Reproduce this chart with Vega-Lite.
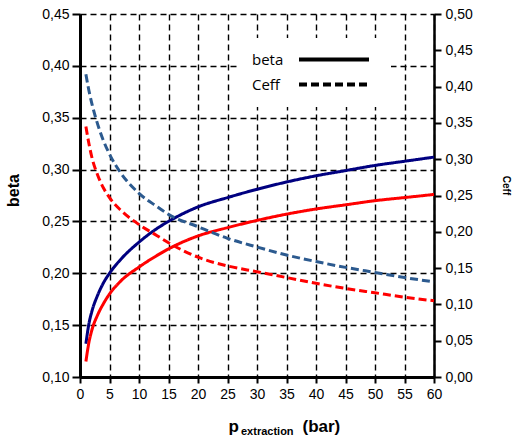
{
  "$schema": "https://vega.github.io/schema/vega-lite/v6.json",
  "width": 354,
  "height": 363,
  "autosize": {"type": "none"},
  "padding": {"left": 80, "top": 14, "right": 79, "bottom": 63},
  "background": "white",
  "title": {
    "text": "extraction",
    "orient": "bottom",
    "anchor": "start",
    "frame": "group",
    "font": "Liberation Sans",
    "fontSize": 11,
    "fontWeight": "bold",
    "color": "black",
    "offset": 0,
    "dx": 161,
    "dy": -8
  },
  "data": {
    "values": [
      {"p": 1, "series": "beta1", "var": "beta", "v": 0.132},
      {"p": 1.5, "series": "beta1", "var": "beta", "v": 0.151},
      {"p": 2, "series": "beta1", "var": "beta", "v": 0.163},
      {"p": 3, "series": "beta1", "var": "beta", "v": 0.179},
      {"p": 4, "series": "beta1", "var": "beta", "v": 0.191},
      {"p": 5, "series": "beta1", "var": "beta", "v": 0.200},
      {"p": 7, "series": "beta1", "var": "beta", "v": 0.214},
      {"p": 10, "series": "beta1", "var": "beta", "v": 0.230},
      {"p": 13, "series": "beta1", "var": "beta", "v": 0.243},
      {"p": 15, "series": "beta1", "var": "beta", "v": 0.250},
      {"p": 20, "series": "beta1", "var": "beta", "v": 0.264},
      {"p": 25, "series": "beta1", "var": "beta", "v": 0.273},
      {"p": 30, "series": "beta1", "var": "beta", "v": 0.281},
      {"p": 35, "series": "beta1", "var": "beta", "v": 0.288},
      {"p": 40, "series": "beta1", "var": "beta", "v": 0.294},
      {"p": 45, "series": "beta1", "var": "beta", "v": 0.299},
      {"p": 50, "series": "beta1", "var": "beta", "v": 0.304},
      {"p": 55, "series": "beta1", "var": "beta", "v": 0.308},
      {"p": 60, "series": "beta1", "var": "beta", "v": 0.312},
      {"p": 1, "series": "beta2", "var": "beta", "v": 0.115},
      {"p": 1.5, "series": "beta2", "var": "beta", "v": 0.133},
      {"p": 2, "series": "beta2", "var": "beta", "v": 0.145},
      {"p": 3, "series": "beta2", "var": "beta", "v": 0.160},
      {"p": 4, "series": "beta2", "var": "beta", "v": 0.171},
      {"p": 5, "series": "beta2", "var": "beta", "v": 0.180},
      {"p": 7, "series": "beta2", "var": "beta", "v": 0.193},
      {"p": 10, "series": "beta2", "var": "beta", "v": 0.206},
      {"p": 13, "series": "beta2", "var": "beta", "v": 0.217},
      {"p": 15, "series": "beta2", "var": "beta", "v": 0.2235},
      {"p": 20, "series": "beta2", "var": "beta", "v": 0.236},
      {"p": 25, "series": "beta2", "var": "beta", "v": 0.244},
      {"p": 30, "series": "beta2", "var": "beta", "v": 0.251},
      {"p": 35, "series": "beta2", "var": "beta", "v": 0.257},
      {"p": 40, "series": "beta2", "var": "beta", "v": 0.262},
      {"p": 45, "series": "beta2", "var": "beta", "v": 0.266},
      {"p": 50, "series": "beta2", "var": "beta", "v": 0.270},
      {"p": 55, "series": "beta2", "var": "beta", "v": 0.273},
      {"p": 60, "series": "beta2", "var": "beta", "v": 0.276},
      {"p": 1, "series": "ceff1", "var": "Ceff", "v": 0.417},
      {"p": 1.5, "series": "ceff1", "var": "Ceff", "v": 0.395},
      {"p": 2, "series": "ceff1", "var": "Ceff", "v": 0.377},
      {"p": 3, "series": "ceff1", "var": "Ceff", "v": 0.348},
      {"p": 4, "series": "ceff1", "var": "Ceff", "v": 0.325},
      {"p": 5, "series": "ceff1", "var": "Ceff", "v": 0.307},
      {"p": 7, "series": "ceff1", "var": "Ceff", "v": 0.280},
      {"p": 10, "series": "ceff1", "var": "Ceff", "v": 0.253},
      {"p": 13, "series": "ceff1", "var": "Ceff", "v": 0.235},
      {"p": 15, "series": "ceff1", "var": "Ceff", "v": 0.224},
      {"p": 20, "series": "ceff1", "var": "Ceff", "v": 0.207},
      {"p": 25, "series": "ceff1", "var": "Ceff", "v": 0.191},
      {"p": 30, "series": "ceff1", "var": "Ceff", "v": 0.179},
      {"p": 35, "series": "ceff1", "var": "Ceff", "v": 0.168},
      {"p": 40, "series": "ceff1", "var": "Ceff", "v": 0.159},
      {"p": 45, "series": "ceff1", "var": "Ceff", "v": 0.151},
      {"p": 50, "series": "ceff1", "var": "Ceff", "v": 0.144},
      {"p": 55, "series": "ceff1", "var": "Ceff", "v": 0.137},
      {"p": 60, "series": "ceff1", "var": "Ceff", "v": 0.131},
      {"p": 1, "series": "ceff2", "var": "Ceff", "v": 0.345},
      {"p": 1.5, "series": "ceff2", "var": "Ceff", "v": 0.322},
      {"p": 2, "series": "ceff2", "var": "Ceff", "v": 0.303},
      {"p": 3, "series": "ceff2", "var": "Ceff", "v": 0.278},
      {"p": 4, "series": "ceff2", "var": "Ceff", "v": 0.260},
      {"p": 5, "series": "ceff2", "var": "Ceff", "v": 0.247},
      {"p": 7, "series": "ceff2", "var": "Ceff", "v": 0.229},
      {"p": 10, "series": "ceff2", "var": "Ceff", "v": 0.210},
      {"p": 13, "series": "ceff2", "var": "Ceff", "v": 0.195},
      {"p": 15, "series": "ceff2", "var": "Ceff", "v": 0.185},
      {"p": 20, "series": "ceff2", "var": "Ceff", "v": 0.165},
      {"p": 25, "series": "ceff2", "var": "Ceff", "v": 0.153},
      {"p": 30, "series": "ceff2", "var": "Ceff", "v": 0.145},
      {"p": 35, "series": "ceff2", "var": "Ceff", "v": 0.137},
      {"p": 40, "series": "ceff2", "var": "Ceff", "v": 0.129},
      {"p": 45, "series": "ceff2", "var": "Ceff", "v": 0.122},
      {"p": 50, "series": "ceff2", "var": "Ceff", "v": 0.116},
      {"p": 55, "series": "ceff2", "var": "Ceff", "v": 0.110},
      {"p": 60, "series": "ceff2", "var": "Ceff", "v": 0.105}
    ]
  },
  "encoding": {
    "color": {
      "field": "series",
      "type": "nominal",
      "scale": {"domain": ["beta1", "beta2", "ceff1", "ceff2"], "range": ["#000080", "#FF0000", "#2C5A8F", "#FF0000"]},
      "legend": null
    },
    "strokeDash": {
      "field": "var",
      "type": "nominal",
      "scale": {"domain": ["beta", "Ceff"], "range": [[1, 0], [8, 4]]},
      "legend": {
        "title": null,
        "orient": "none",
        "legendX": 158,
        "legendY": 24,
        "fillColor": "white",
        "padding": 14,
        "symbolType": "M-7,0H7",
        "symbolSize": 100,
        "symbolStrokeWidth": 4,
        "symbolStrokeColor": "black",
        "symbolFillColor": "transparent",
        "symbolOffset": 74.5,
        "rowPadding": 8,
        "labelOffset": -89.5,
        "labelFont": "Open Sans",
        "labelFontSize": 15,
        "labelColor": "black"
      }
    }
  },
  "layer": [
    {
      "transform": [{"filter": "datum.var === 'beta'"}],
      "mark": {"type": "line", "strokeWidth": 3, "interpolate": "monotone"},
      "encoding": {
        "x": {
          "field": "p",
          "type": "quantitative",
          "scale": {"domain": [0, 60], "nice": false, "zero": false},
          "axis": {
            "orient": "bottom",
            "values": [0, 5, 10, 15, 20, 25, 30, 35, 40, 45, 50, 55, 60],
            "title": "p",
            "titleFont": "Liberation Sans",
            "titleFontSize": 17,
            "titleFontWeight": "bold",
            "titleColor": "black",
            "titleAlign": "left",
            "titleBaseline": "alphabetic",
            "titleX": 148,
            "titleY": 54,
            "grid": true,
            "gridColor": "black",
            "gridDash": [6, 4],
            "gridWidth": 1.4,
            "domainColor": "black",
            "domainWidth": 3,
            "tickColor": "black",
            "tickWidth": 2,
            "tickSize": 6,
            "labelFont": "Liberation Sans",
            "labelFontSize": 14,
            "labelColor": "black",
            "labelPadding": 4,
            "labelFlush": false
          }
        },
        "y": {
          "field": "v",
          "type": "quantitative",
          "scale": {"domain": [0.1, 0.45], "nice": false, "zero": false},
          "axis": {
            "orient": "left",
            "values": [0.1, 0.15, 0.2, 0.25, 0.3, 0.35, 0.4, 0.45],
            "labelExpr": "replace(format(datum.value, '.2f'), '.', ',')",
            "title": "beta",
            "titleFont": "Liberation Sans",
            "titleFontSize": 16,
            "titleFontWeight": "bold",
            "titleColor": "black",
            "titleAngle": -90,
            "titleAlign": "center",
            "titleBaseline": "middle",
            "titleX": -67,
            "titleY": 176,
            "grid": true,
            "gridColor": "black",
            "gridDash": [6, 4],
            "gridWidth": 1.4,
            "domainColor": "black",
            "domainWidth": 3,
            "tickColor": "black",
            "tickWidth": 2,
            "tickSize": 8,
            "labelFont": "Liberation Sans",
            "labelFontSize": 14,
            "labelColor": "black",
            "labelPadding": 3,
            "labelFlush": false
          }
        }
      }
    },
    {
      "transform": [{"filter": "datum.var === 'Ceff'"}],
      "mark": {"type": "line", "strokeWidth": 3, "interpolate": "monotone"},
      "encoding": {
        "x": {
          "field": "p",
          "type": "quantitative",
          "scale": {"domain": [0, 60], "nice": false, "zero": false},
          "axis": {
            "orient": "bottom",
            "labels": false,
            "ticks": false,
            "domain": false,
            "grid": false,
            "title": "(bar)",
            "titleFont": "Liberation Sans",
            "titleFontSize": 17,
            "titleFontWeight": "bold",
            "titleColor": "black",
            "titleAlign": "left",
            "titleBaseline": "alphabetic",
            "titleX": 222,
            "titleY": 54
          }
        },
        "y": {
          "field": "v",
          "type": "quantitative",
          "scale": {"domain": [0, 0.5], "nice": false, "zero": false},
          "axis": {
            "orient": "right",
            "values": [0, 0.05, 0.1, 0.15, 0.2, 0.25, 0.3, 0.35, 0.4, 0.45, 0.5],
            "labelExpr": "replace(format(datum.value, '.2f'), '.', ',')",
            "title": "Ceff",
            "titleFont": "Liberation Sans",
            "titleFontSize": 10,
            "titleFontWeight": "bold",
            "titleColor": "black",
            "titleAngle": 90,
            "titleAlign": "center",
            "titleBaseline": "middle",
            "titleX": 71,
            "titleY": 171,
            "grid": false,
            "domainColor": "black",
            "domainWidth": 2.5,
            "tickColor": "black",
            "tickWidth": 2,
            "tickSize": 7,
            "labelFont": "Liberation Sans",
            "labelFontSize": 14,
            "labelColor": "black",
            "labelPadding": 4,
            "labelFlush": false
          }
        }
      }
    }
  ],
  "resolve": {"scale": {"x": "independent", "y": "independent"}},
  "config": {
    "view": {"stroke": null},
    "line": {"strokeCap": "butt"}
  }
}
